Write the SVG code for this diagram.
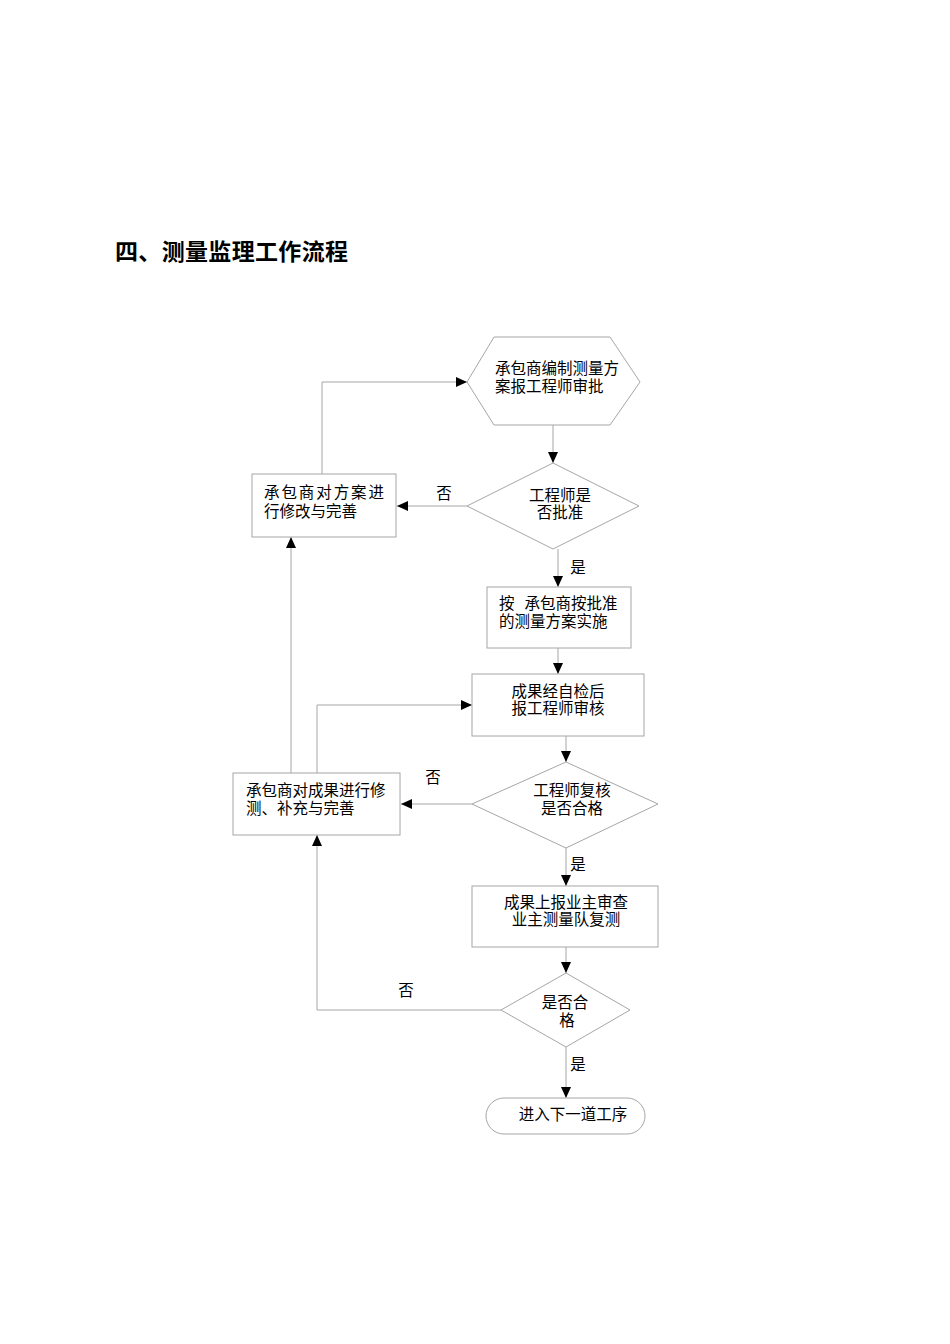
<svg xmlns="http://www.w3.org/2000/svg" width="950" height="1344" viewBox="0 0 950 1344">
<style>
.s{fill:#fff;stroke:#a6a6a6;stroke-width:1}
.c{fill:none;stroke:#a6a6a6;stroke-width:1}
text{font-family:"Liberation Serif","Noto Sans CJK SC",serif;font-size:15.5px;fill:#000}
.m{text-anchor:middle}
.t{font-size:23px;font-weight:bold;font-family:"Liberation Sans","Noto Sans CJK SC",sans-serif}
</style>
<defs>
<marker id="a" markerUnits="userSpaceOnUse" markerWidth="12" markerHeight="10" refX="11" refY="5" orient="auto">
<path d="M0,0 L11,5 L0,10 Z" fill="#000"/>
</marker>
</defs>
<rect width="950" height="1344" fill="#fff"/>
<text class="t" x="115" y="260" textLength="233">四、测量监理工作流程</text>

<g id="connectors">
<path class="c" d="M553,425 V463" marker-end="url(#a)"/>
<path class="c" d="M467,506 H397" marker-end="url(#a)"/>
<path class="c" d="M322,474 V382 H467" marker-end="url(#a)"/>
<path class="c" d="M558,549 V587" marker-end="url(#a)"/>
<path class="c" d="M558,648 V674" marker-end="url(#a)"/>
<path class="c" d="M291,773 V537" marker-end="url(#a)"/>
<path class="c" d="M317,773 V705 H472" marker-end="url(#a)"/>
<path class="c" d="M566,736 V762" marker-end="url(#a)"/>
<path class="c" d="M472,804 H401" marker-end="url(#a)"/>
<path class="c" d="M566,848 V886" marker-end="url(#a)"/>
<path class="c" d="M566,947 V973" marker-end="url(#a)"/>
<path class="c" d="M501,1010 H317 V835" marker-end="url(#a)"/>
<path class="c" d="M566,1047 V1098" marker-end="url(#a)"/>
<text class="m" x="444" y="499">否</text>
<text class="m" x="578" y="573">是</text>
<text class="m" x="433" y="783">否</text>
<text class="m" x="578" y="870">是</text>
<text class="m" x="406" y="996">否</text>
<text class="m" x="578" y="1070">是</text>
</g>

<g id="n1">
<polygon class="s" points="467,382 494,337 610,337 640,382 610,425 494,425"/>
<text x="495" y="374">承包商编制测量方</text>
<text x="495" y="392">案报工程师审批</text>
</g>

<g id="n2">
<polygon class="s" points="553,463 639,506 553,549 467,506"/>
<text class="m" x="560" y="501">工程师是</text>
<text class="m" x="560" y="518">否批准</text>
</g>

<g id="n3">
<rect class="s" x="252" y="474" width="144" height="63"/>
<text x="264" y="498" textLength="120">承包商对方案进</text>
<text x="264" y="517">行修改与完善</text>
</g>

<g id="n4">
<rect class="s" x="487" y="587" width="144" height="61"/>
<text x="499" y="609">按 <tspan dx="6">承包商按批准</tspan></text>
<text x="499" y="627">的测量方案实施</text>
</g>

<g id="n5">
<rect class="s" x="472" y="674" width="172" height="62"/>
<text class="m" x="558" y="697">成果经自检后</text>
<text class="m" x="558" y="714">报工程师审核</text>
</g>

<g id="n6">
<polygon class="s" points="566,762 658,804 566,848 472,804"/>
<text class="m" x="572" y="796">工程师复核</text>
<text class="m" x="572" y="814">是否合格</text>
</g>

<g id="n7">
<rect class="s" x="233" y="773" width="167" height="62"/>
<text x="246" y="796">承包商对成果进行修</text>
<text x="246" y="814">测、补充与完善</text>
</g>

<g id="n8">
<rect class="s" x="472" y="886" width="186" height="61"/>
<text class="m" x="566" y="908">成果上报业主审查</text>
<text class="m" x="566" y="925">业主测量队复测</text>
</g>

<g id="n9">
<polygon class="s" points="566,973 630,1010 566,1047 501,1010"/>
<text class="m" x="565" y="1008">是否合</text>
<text class="m" x="567" y="1026">格</text>
</g>

<g id="n10">
<rect class="s" x="486" y="1098" width="159" height="36" rx="18" ry="18"/>
<text class="m" x="573" y="1120">进入下一道工序</text>
</g>
</svg>
